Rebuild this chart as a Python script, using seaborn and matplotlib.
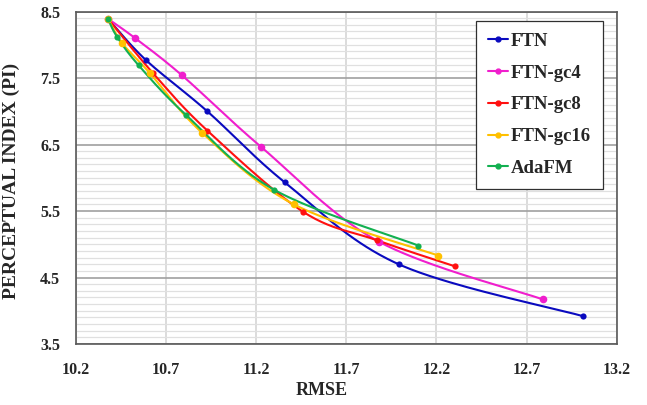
import numpy as np
import pandas as pd
import matplotlib
matplotlib.use("Agg")
import matplotlib.pyplot as plt
import seaborn as sns
from matplotlib.lines import Line2D
from matplotlib.ticker import MultipleLocator

# ---- data ----
series_names = ["FTN", "FTN-gc4", "FTN-gc8", "FTN-gc16", "AdaFM"]
ftn_rmse = [10.38, 10.59, 10.93, 11.36, 11.99, 13.01]
ftn_pi = [8.39, 7.77, 7.00, 5.93, 4.70, 3.92]
gc4_rmse = [10.38, 10.53, 10.79, 11.23, 11.88, 12.79]
gc4_pi = [8.39, 8.10, 7.54, 6.46, 5.04, 4.17]
gc8_rmse = [10.38, 10.63, 10.93, 11.46, 11.87, 12.30]
gc8_pi = [8.39, 7.57, 6.71, 5.49, 5.06, 4.67]
gc16_rmse = [10.38, 10.46, 10.61, 10.90, 11.41, 12.21]
gc16_pi = [8.39, 8.02, 7.58, 6.68, 5.60, 4.83]
adafm_rmse = [10.38, 10.43, 10.55, 10.81, 11.30, 12.10]
adafm_pi = [8.39, 8.12, 7.69, 6.95, 5.82, 4.98]

x_ticks = [10.2, 10.7, 11.2, 11.7, 12.2, 12.7, 13.2]
y_ticks = [3.5, 4.5, 5.5, 6.5, 7.5, 8.5]

colors = ["#0A0ABF", "#F01ECD", "#FF1010", "#FFC000", "#12B050"]
marker_sizes = [20, 30, 20, 30, 20]

rmse_all = [ftn_rmse, gc4_rmse, gc8_rmse, gc16_rmse, adafm_rmse]
pi_all = [ftn_pi, gc4_pi, gc8_pi, gc16_pi, adafm_pi]


def smooth_curve(xs, ys, n=40):
    """Excel-like smoothed line (Catmull-Rom Bezier) through the data points."""
    p = np.column_stack([xs, ys]).astype(float)
    pp = np.vstack([p[0], p, p[-1]])
    out = []
    for i in range(1, len(pp) - 2):
        p0, p1, p2, p3 = pp[i - 1], pp[i], pp[i + 1], pp[i + 2]
        c1 = p1 + (p2 - p0) / 6.0
        c2 = p2 - (p3 - p1) / 6.0
        t = np.linspace(0, 1, n)[:, None]
        seg = ((1 - t) ** 3) * p1 + 3 * ((1 - t) ** 2) * t * c1 + 3 * (1 - t) * t ** 2 * c2 + t ** 3 * p2
        out.append(seg if i == 1 else seg[1:])
    c = np.vstack(out)
    return c[:, 0], c[:, 1]


sns.set_theme(style="white")
plt.rcParams["font.family"] = ["Liberation Serif", "DejaVu Serif"]
plt.rcParams["font.weight"] = "bold"

fig = plt.figure(figsize=(6.47, 4.05), dpi=100)
ax = fig.add_axes([0.1167, 0.1506, 0.8369, 0.8210])

for name, xs, ys, col, ms in zip(series_names, rmse_all, pi_all, colors, marker_sizes):
    sx, sy = smooth_curve(xs, ys)
    curve = pd.DataFrame({"RMSE": sx, "PI": sy})
    sns.lineplot(data=curve, x="RMSE", y="PI", sort=False, estimator=None,
                 color=col, linewidth=1.5, ax=ax, zorder=3)
    pts = pd.DataFrame({"RMSE": xs, "PI": ys})
    sns.scatterplot(data=pts, x="RMSE", y="PI", color=col, s=ms,
                    edgecolor=col, linewidth=0, ax=ax, zorder=4)

ax.set_xlim(x_ticks[0], x_ticks[-1])
ax.set_ylim(y_ticks[0], y_ticks[-1])
ax.set_xticks(x_ticks)
ax.set_yticks(y_ticks)
ax.set_xticklabels([f"{v:.1f}" for v in x_ticks], fontsize=11.5, fontweight="bold")
ax.set_yticklabels([f"{v:.1f}" for v in y_ticks], fontsize=11.5, fontweight="bold")
ax.yaxis.set_minor_locator(MultipleLocator(0.1))
ax.tick_params(axis="both", which="both", length=0)
ax.tick_params(axis="x", pad=13)
ax.tick_params(axis="y", pad=11)

ax.grid(False)
ax.grid(True, axis="y", which="minor", color="#e0e0e0", linewidth=0.9, zorder=0)
ax.grid(True, axis="y", which="major", color="#a0a0a0", linewidth=1.2, zorder=0)
ax.grid(True, axis="x", which="major", color="#d6d6d6", linewidth=1.2, zorder=0)
ax.set_axisbelow(True)

for side in ["left", "bottom", "top", "right"]:
    ax.spines[side].set_color("#595959")
    ax.spines[side].set_linewidth(1.2)

ax.set_xlabel("RMSE", fontsize=13, fontweight="bold")
ax.set_ylabel("PERCEPTUAL INDEX (PI)", fontsize=14, fontweight="bold")
ax.xaxis.set_label_coords(0.455, -0.115)
ax.yaxis.set_label_coords(-0.102, 0.49)

handles = [Line2D([0], [0], color=c, linewidth=1.5, marker="o", markersize=3.5)
           for c in colors]
leg = ax.legend(handles, series_names, loc="upper right",
                bbox_to_anchor=(0.9736, 0.9724), borderaxespad=0,
                fancybox=False, framealpha=1, edgecolor="#303030",
                prop={"family": "Liberation Serif", "weight": "bold", "size": 13.5},
                handlelength=1.1, handletextpad=0.1, labelspacing=0.78,
                borderpad=0.65)
leg.get_frame().set_linewidth(0.9)
leg.set_zorder(10)

fig.savefig("out.png", dpi=100)
